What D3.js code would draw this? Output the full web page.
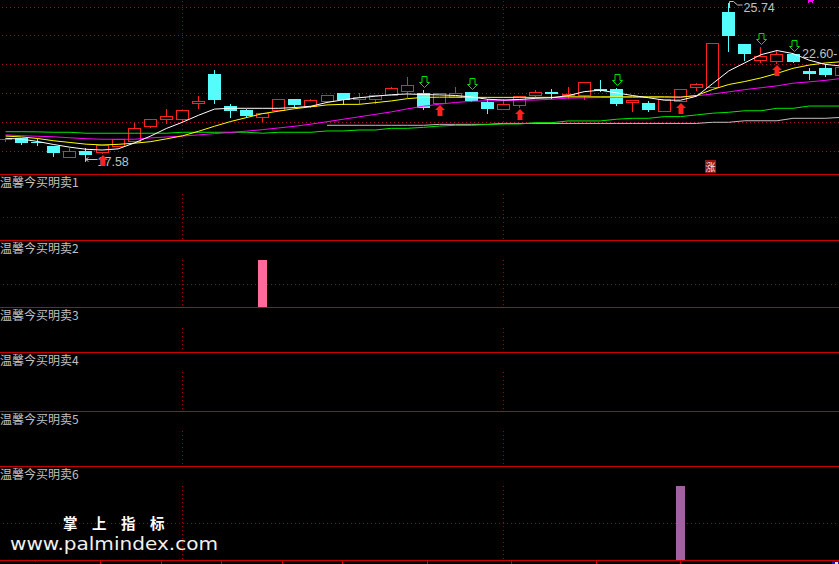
<!DOCTYPE html>
<html><head><meta charset="utf-8">
<script src="https://cdn.jsdelivr.net/npm/d3@7"></script>
<style>html,body{margin:0;padding:0;background:#000;overflow:hidden}</style>
</head><body>
<svg id="c" width="839" height="564"></svg>
<script>
// ---------------- data ----------------
const opens  = [18.51,18.60,18.35,18.18,17.60,17.90,17.86,18.18,18.44,19.24,19.61,19.61,20.43,21.98,20.28,20.07,19.72,20.07,20.65,20.28,20.56,20.97,20.64,20.65,20.87,21.09,20.97,20.46,20.78,21.02,20.49,20.12,20.34,20.88,21.02,20.89,20.87,21.20,21.20,20.48,20.44,20.03,20.56,21.27,21.27,25.25,23.58,22.72,22.68,23.04,22.15,22.31,21.93];
const highs  = [18.58,18.60,18.53,18.18,18.07,18.04,18.24,18.55,19.37,19.59,20.12,20.07,20.80,22.19,20.39,20.14,19.90,20.65,20.65,20.65,20.87,20.97,20.96,20.87,21.29,21.82,21.13,20.97,21.27,21.05,20.65,20.65,20.81,21.11,21.17,21.27,21.55,21.66,21.25,20.60,20.55,20.64,21.18,21.49,23.61,25.74,23.58,23.43,23.25,23.04,22.28,22.49,22.36];
const lows   = [18.43,18.27,18.21,17.62,17.60,17.58,17.80,18.15,18.44,19.19,19.37,19.45,20.19,20.43,19.72,19.68,19.50,20.07,20.25,20.21,20.56,20.39,20.43,20.46,20.87,20.77,20.12,20.46,20.78,20.54,19.93,20.12,20.21,20.83,20.69,20.69,20.65,21.06,20.36,20.03,20.03,20.03,20.56,21.13,21.27,23.21,22.72,22.63,22.54,22.60,21.71,21.87,21.93];
const closes = [18.53,18.34,18.33,17.81,17.90,17.68,18.21,18.52,19.13,19.59,19.75,20.07,20.55,20.60,20.03,19.75,19.90,20.65,20.34,20.60,20.87,20.60,20.76,20.87,21.24,21.40,20.19,20.97,20.97,20.56,20.12,20.39,20.81,21.02,20.93,20.94,21.55,21.08,20.39,20.60,20.09,20.64,21.18,21.45,23.61,24.01,23.04,22.92,23.04,22.63,21.98,21.93,22.36];

const ma5   = [18.57,18.53,18.40,18.24,18.10,17.99,17.95,18.01,18.32,18.68,19.09,19.42,19.79,20.12,20.16,20.16,20.16,20.16,20.20,20.27,20.47,20.61,20.72,20.80,20.88,20.92,20.89,20.87,20.84,20.76,20.64,20.60,20.63,20.69,20.72,20.83,21.04,21.12,20.98,20.84,20.72,20.59,20.59,20.80,21.47,22.14,22.57,23.00,23.22,23.06,22.71,22.49,22.40];
const ma10  = [18.69,18.64,18.56,18.44,18.35,18.26,18.22,18.25,18.31,18.39,18.54,18.70,18.94,19.21,19.46,19.67,19.88,20.01,20.14,20.24,20.34,20.37,20.37,20.46,20.55,20.67,20.74,20.75,20.76,20.74,20.74,20.74,20.74,20.74,20.74,20.77,20.77,20.77,20.77,20.77,20.77,20.77,20.75,20.84,21.16,21.42,21.58,21.77,22.01,22.28,22.45,22.56,22.63];
const ma20  = [18.75,18.71,18.68,18.65,18.60,18.55,18.52,18.52,18.52,18.59,18.64,18.69,18.75,18.82,18.88,18.95,19.03,19.12,19.21,19.32,19.45,19.58,19.71,19.84,19.97,20.13,20.27,20.38,20.47,20.53,20.56,20.57,20.59,20.60,20.64,20.70,20.71,20.73,20.74,20.74,20.74,20.74,20.76,20.82,20.92,21.03,21.15,21.25,21.35,21.49,21.56,21.64,21.74];
const ma60  = [18.92,18.92,18.91,18.89,18.89,18.84,18.84,18.84,18.84,18.84,18.84,18.89,18.89,18.89,18.89,18.89,18.84,18.89,18.89,18.89,18.96,18.96,19.01,19.01,19.10,19.10,19.15,19.22,19.26,19.26,19.30,19.33,19.33,19.40,19.40,19.49,19.49,19.49,19.58,19.63,19.63,19.72,19.72,19.81,19.90,19.95,20.03,20.03,20.16,20.16,20.28,20.28,20.28];
const ma120 = [null,null,null,null,null,null,null,null,null,null,null,null,null,null,null,null,null,null,null,null,19.26,19.26,19.26,19.26,19.26,19.26,19.26,19.31,19.31,19.31,19.31,19.36,19.36,19.36,19.36,19.36,19.36,19.36,19.36,19.36,19.36,19.36,19.36,19.36,19.42,19.42,19.50,19.50,19.50,19.63,19.63,19.63,19.68];

const buySignals  = [6,27,32,42,48];      // red up arrows
const sellSignals = [26,29,38,47,49];     // green hollow down arrows
const gridPrices  = [25.51,24.03,22.49,20.96,19.42,17.88];
const vGridIdx    = [11,31];
const highLabel = {i:45, v:25.74, text:"25.74"};
const lowLabel  = {i:5,  v:17.58, text:"17.58"};
const sideLabel = {v:22.60, text:"22.60-"};
const riseMarkIdx = 44;                   // 涨 marker
const panelTitles = ["温馨今买明卖1","温馨今买明卖2","温馨今买明卖3","温馨今买明卖4","温馨今买明卖5","温馨今买明卖6"];
const panel2Bars = [16];
const panel6Bars = [42];
const axisTickIdx = [1.83,5.87,9.67,13.40,17.20,20.93,26.22,31.45,36.74,41.97];

// ---------------- layout ----------------
const W=839, H=564;
const panels = [
  {top:174, dataTop:194, bottom:240, mid:true},
  {top:240, dataTop:260, bottom:307, mid:true},
  {top:307, dataTop:328, bottom:352, mid:false},
  {top:352, dataTop:372, bottom:411, mid:false},
  {top:411, dataTop:431, bottom:466, mid:false},
  {top:466, dataTop:486, bottom:560, mid:true}
];
const RED='#ff2020', CYAN='#54fcfc', GRID='#a00000', LINEC='#c80000', TXT='#c0c0c0';

const svg = d3.select('#c');
svg.append('rect').attr('width',W).attr('height',H).attr('fill','#000');

const idx = d3.range(closes.length);
const x = d3.scaleLinear().domain([0,52]).range([5.6,841.24]);
const y = d3.scaleLinear().domain([17.58,25.74]).range([157,3]);
const cxOf = i => Math.floor(x(i));

// ---------------- grid ----------------
const grid = svg.append('g').attr('shape-rendering','crispEdges');
grid.selectAll('line.h').data(gridPrices).join('line').attr('class','h')
  .attr('x1',2).attr('x2',W).attr('y1',d=>Math.round(y(d))+0.5).attr('y2',d=>Math.round(y(d))+0.5)
  .attr('stroke','#9a1a1a').attr('stroke-dasharray','1,3');
grid.selectAll('line.v').data(vGridIdx).join('line').attr('class','v')
  .attr('x1',d=>cxOf(d)+0.5).attr('x2',d=>cxOf(d)+0.5).attr('y1',1).attr('y2',159)
  .attr('stroke',GRID).attr('stroke-dasharray','1,3');

panels.forEach((p,k)=>{
  const pg = svg.append('g').attr('shape-rendering','crispEdges');
  pg.append('line').attr('x1',0).attr('x2',W).attr('y1',p.top+0.5).attr('y2',p.top+0.5).attr('stroke',LINEC);
  if(p.mid){
    const ym = Math.round((p.dataTop+p.bottom)/2)+0.5;
    pg.append('line').attr('x1',3).attr('x2',W).attr('y1',ym).attr('y2',ym).attr('stroke',GRID).attr('stroke-dasharray','1,3');
  }
  pg.selectAll('line.v').data(vGridIdx).join('line').attr('class','v')
    .attr('x1',d=>cxOf(d)+0.5).attr('x2',d=>cxOf(d)+0.5).attr('y1',p.dataTop).attr('y2',p.bottom)
    .attr('stroke',GRID).attr('stroke-dasharray','1,3');
});
svg.append('line').attr('shape-rendering','crispEdges').attr('x1',0).attr('x2',W).attr('y1',560.5).attr('y2',560.5).attr('stroke',LINEC);
svg.append('g').attr('shape-rendering','crispEdges').selectAll('line').data(axisTickIdx).join('line')
  .attr('x1',d=>Math.round(x(d))+0.5).attr('x2',d=>Math.round(x(d))+0.5)
  .attr('y1',561).attr('y2',(d,i)=>i===0?562:564).attr('stroke',(d,i)=>i===0?'#801010':LINEC);
svg.append('rect').attr('x',832).attr('y',561).attr('width',7).attr('height',3).attr('fill','#1a1aa8');
svg.append('rect').attr('x',835).attr('y',562).attr('width',3).attr('height',2).attr('fill','#e0e0e0');

// ---------------- candles ----------------
const cg = svg.append('g').attr('shape-rendering','crispEdges');
idx.forEach(i=>{
  const cx = cxOf(i);
  const up = closes[i] >= opens[i];
  const yo=Math.round(y(opens[i])), yc=Math.round(y(closes[i])), yh=Math.round(y(highs[i])), yl=Math.round(y(lows[i]));
  if(up){
    const top=yc, bot=yo;
    if(yh<top) cg.append('line').attr('x1',cx+0.5).attr('x2',cx+0.5).attr('y1',yh).attr('y2',top).attr('stroke',RED);
    if(yl>bot) cg.append('line').attr('x1',cx+0.5).attr('x2',cx+0.5).attr('y1',bot).attr('y2',yl+1).attr('stroke',RED);
    if(bot-top<1){
      cg.append('line').attr('x1',cx-6).attr('x2',cx+7).attr('y1',top+0.5).attr('y2',top+0.5).attr('stroke',RED);
    } else {
      cg.append('rect').attr('x',cx-6+0.5).attr('y',top+0.5).attr('width',12).attr('height',bot-top)
        .attr('fill','#000').attr('stroke',RED);
    }
  } else {
    cg.append('line').attr('x1',cx+0.5).attr('x2',cx+0.5).attr('y1',yh).attr('y2',yl+1).attr('stroke',CYAN);
    cg.append('rect').attr('x',cx-6).attr('y',yo).attr('width',13).attr('height',Math.max(1,yc-yo)).attr('fill',CYAN);
  }
});

// ---------------- moving averages ----------------
const mas = [[ma120,'#c0c0c0'],[ma60,'#00e800'],[ma20,'#ff00ff'],[ma10,'#ffff00'],[ma5,'#ffffff']];
const line = d3.line().defined(d=>d!=null).x((d,i)=>x(i)).y(d=>y(d));
mas.forEach(([arr,col])=>{
  svg.append('path').datum(arr).attr('d',line).attr('fill','none').attr('stroke',col).attr('stroke-width',1);
});

// ---------------- labels ----------------
const lf = '"Liberation Sans", Arial, sans-serif';
{
  const cx = cxOf(highLabel.i)+1.5, yy = y(highLabel.v);
  svg.append('path').attr('d',`M${cx},${yy+5} V${yy-1.5} H${cx+4} L${cx+8},${yy+2} L${cx+13},${yy+2}`)
    .attr('fill','none').attr('stroke',TXT).attr('stroke-width',1);
  svg.append('text').attr('x',cx+14).attr('y',yy+9).attr('fill',TXT).attr('font-family',lf).attr('font-size',12.5).text(highLabel.text);
}
{
  const cx = cxOf(lowLabel.i)+0.5, yy = y(lowLabel.v);
  svg.append('path').attr('d',`M${cx},${yy} V${yy+5} M${cx},${yy+2.5} H${cx+12} M${cx},${yy+2.5} L${cx+3},${yy+0.5} M${cx},${yy+2.5} L${cx+3},${yy+4.5}`)
    .attr('fill','none').attr('stroke',TXT).attr('stroke-width',1);
  svg.append('text').attr('x',cx+12).attr('y',yy+8.5).attr('fill',TXT).attr('font-family',lf).attr('font-size',12.5).text(lowLabel.text);
}
svg.append('text').attr('x',802).attr('y',y(sideLabel.v)-4.3).attr('fill',TXT).attr('font-family',lf).attr('font-size',12.5).text(sideLabel.text);
svg.append('path').attr('d','M808,0 H814 V1 H813 V3 H812 V2 H809 V3 H808 Z').attr('fill','#ff00ff');

{
  const cx = cxOf(riseMarkIdx);
  svg.append('rect').attr('x',cx-7).attr('y',160).attr('width',11).attr('height',13).attr('fill','#8e1616');
  svg.append('text').attr('x',cx-1.5).attr('y',171).attr('text-anchor','middle').attr('fill','#f4e0e0')
    .attr('font-family','"Noto Sans CJK SC", sans-serif').attr('font-size',10).text('涨');
}

// ---------------- signals ----------------
svg.append('g').selectAll('path').data(buySignals).join('path')
  .attr('d',i=>{const c=cxOf(i)+1, t=Math.round(y(lows[i]))+2;
    return `M${c},${t} L${c+5},${t+5} L${c+2.5},${t+5} L${c+2.5},${t+11} L${c-2.5},${t+11} L${c-2.5},${t+5} L${c-5},${t+5} Z`;})
  .attr('fill',RED);
svg.append('g').selectAll('path').data(sellSignals).join('path')
  .attr('d',i=>{const c=cxOf(i)+1.5, b=Math.round(y(highs[i]))-3+0.5;
    return `M${c-2.5},${b-11} H${c+2.5} V${b-5} H${c+5} L${c},${b} L${c-5},${b-5} H${c-2.5} Z`;})
  .attr('fill','none').attr('stroke','#00e000').attr('stroke-width',1);

// ---------------- indicator panels ----------------
panels.forEach((p,k)=>{
  svg.append('text').attr('x',0).attr('y',p.top+13).attr('fill',TXT)
    .attr('font-family','"Noto Sans CJK SC", sans-serif').attr('font-size',12).text(panelTitles[k]);
});
function drawBars(p, list, color){
  const ys = d3.scaleLinear().domain([0,1]).range([p.bottom, p.dataTop]);
  svg.append('g').attr('shape-rendering','crispEdges').selectAll('rect').data(list).join('rect')
    .attr('x',i=>cxOf(i)-4).attr('width',9)
    .attr('y',ys(1)).attr('height',ys(0)-ys(1)).attr('fill',color);
}
drawBars(panels[1], panel2Bars, '#ff6a9c');
drawBars(panels[5], panel6Bars, '#a262a2');

// ---------------- watermark ----------------
svg.append('text').attr('x',63).attr('y',529).attr('fill','#ffffff').attr('font-weight','bold')
  .attr('font-family','"Noto Sans CJK SC", sans-serif').attr('font-size',14.5).attr('letter-spacing',14.5).text('掌上指标');
svg.append('text').attr('x',10).attr('y',550).attr('fill','#f0f0f0')
  .attr('font-family','"DejaVu Sans", sans-serif').attr('font-size',18.5)
  .attr('textLength',208).attr('lengthAdjust','spacingAndGlyphs').text('www.palmindex.com');
</script>
</body></html>
